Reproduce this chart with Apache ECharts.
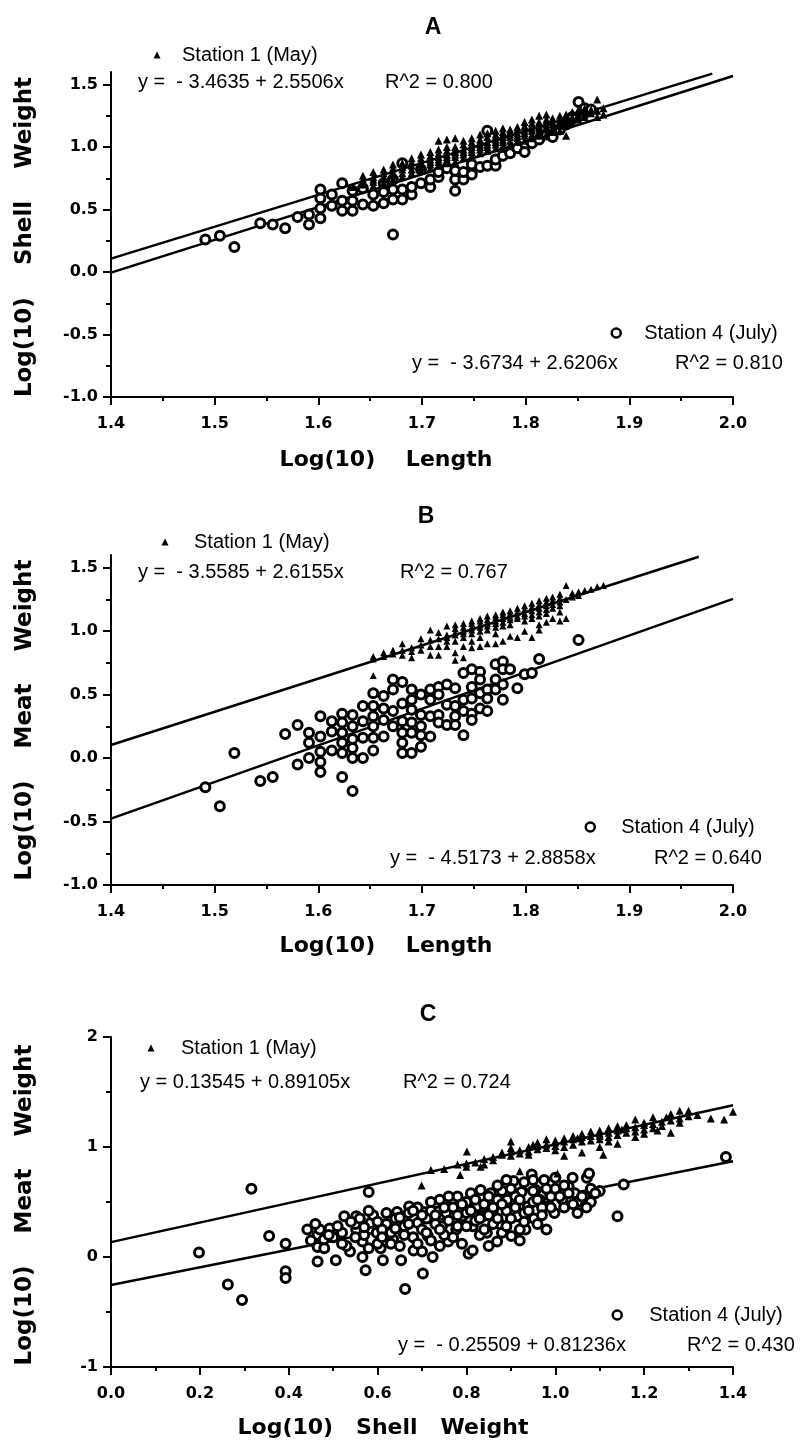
<!DOCTYPE html>
<html><head><meta charset="utf-8">
<script src="https://cdn.jsdelivr.net/npm/echarts@6/dist/echarts.min.js"></script>
<style>html,body{margin:0;padding:0;background:#fff}#c{width:808px;height:1444px}</style>
</head><body><div id="c"></div>
<script>
// ---------- tick values ----------
const xTicksLen = [1.4,1.5,1.6,1.7,1.8,1.9,2.0];
const xMinorLen = [1.45,1.55,1.65,1.75,1.85,1.95];
const yTicksAB = [-1.0,-0.5,0.0,0.5,1.0,1.5];
const yMinorAB = [-0.75,-0.25,0.25,0.75,1.25];
const xTicksShell = [0.0,0.2,0.4,0.6,0.8,1.0,1.2,1.4];
const xMinorShell = [0.1,0.3,0.5,0.7,0.9,1.1,1.3];
const yTicksC = [-1,0,1,2];
const yMinorC = [-0.5,0.5,1.5];

// ---------- texts ----------
const panelTitles = ['A','B','C'];
const yTitles = ['Log(10)    Shell    Weight','Log(10)    Meat    Weight','Log(10)    Meat    Weight'];
const xTitles = ['Log(10)    Length','Log(10)    Length','Log(10)   Shell   Weight'];
const seriesNames = ['Station 1 (May)','Station 4 (July)'];
const eqMay = ['y =  - 3.4635 + 2.5506x','y =  - 3.5585 + 2.6155x','y = 0.13545 + 0.89105x'];
const r2May = ['R^2 = 0.800','R^2 = 0.767','R^2 = 0.724'];
const eqJuly = ['y =  - 3.6734 + 2.6206x','y =  - 4.5173 + 2.8858x','y =  - 0.25509 + 0.81236x'];
const r2July = ['R^2 = 0.810','R^2 = 0.640','R^2 = 0.430'];

// ---------- regression line end points ----------
const aLineMay = [[1.4,0.107],[1.98,1.587]];
const aLineJuly = [[1.4,-0.005],[2.0,1.568]];
const bLineMay = [[1.4,0.103],[1.967,1.586]];
const bLineJuly = [[1.4,-0.477],[2.0,1.254]];
const cLineMay = [[0.0,0.135],[1.4,1.38]];
const cLineJuly = [[0.0,-0.255],[1.4,0.87]];

// ---------- Panel A: log length vs log shell weight ----------
const aMay = [
[1.633,0.68],[1.643,0.70],[1.643,0.74],[1.643,0.77],
[1.653,0.69],[1.653,0.72],[1.653,0.74],[1.653,0.76],[1.653,0.80],
[1.663,0.71],[1.663,0.74],[1.663,0.76],[1.663,0.79],[1.663,0.82],
[1.672,0.74],[1.672,0.77],[1.672,0.80],[1.672,0.83],[1.672,0.86],
[1.681,0.76],[1.681,0.79],[1.681,0.82],[1.681,0.84],[1.681,0.87],
[1.690,0.79],[1.690,0.82],[1.690,0.85],[1.690,0.88],[1.690,0.91],
[1.699,0.81],[1.699,0.84],[1.699,0.86],[1.699,0.88],[1.699,0.91],[1.699,0.94],
[1.708,0.83],[1.708,0.86],[1.708,0.88],[1.708,0.90],[1.708,0.93],[1.708,0.96],
[1.716,0.85],[1.716,0.88],[1.716,0.90],[1.716,0.92],[1.716,0.95],[1.716,0.98],[1.716,1.05],
[1.724,0.87],[1.724,0.90],[1.724,0.92],[1.724,0.94],[1.724,0.97],[1.724,1.00],[1.724,1.06],
[1.732,0.88],[1.732,0.92],[1.732,0.94],[1.732,0.96],[1.732,0.98],[1.732,1.00],[1.732,1.07],
[1.740,0.91],[1.740,0.94],[1.740,0.96],[1.740,0.98],[1.740,1.02],[1.740,1.05],
[1.748,0.93],[1.748,0.96],[1.748,0.98],[1.748,1.00],[1.748,1.02],[1.748,1.04],[1.748,1.07],
[1.756,0.95],[1.756,0.98],[1.756,1.00],[1.756,1.02],[1.756,1.04],[1.756,1.06],[1.756,1.10],
[1.763,0.97],[1.763,1.00],[1.763,1.02],[1.763,1.04],[1.763,1.08],[1.763,1.11],
[1.771,0.99],[1.771,1.02],[1.771,1.04],[1.771,1.06],[1.771,1.08],[1.771,1.10],[1.771,1.13],
[1.778,1.01],[1.778,1.04],[1.778,1.06],[1.778,1.08],[1.778,1.10],[1.778,1.12],[1.778,1.15],
[1.785,1.02],[1.785,1.05],[1.785,1.08],[1.785,1.10],[1.785,1.12],[1.785,1.14],
[1.792,1.04],[1.792,1.07],[1.792,1.09],[1.792,1.11],[1.792,1.14],[1.792,1.16],
[1.799,1.05],[1.799,1.09],[1.799,1.11],[1.799,1.13],[1.799,1.15],[1.799,1.17],[1.799,1.20],
[1.806,1.07],[1.806,1.10],[1.806,1.13],[1.806,1.15],[1.806,1.17],[1.806,1.19],[1.806,1.22],
[1.813,1.09],[1.813,1.12],[1.813,1.14],[1.813,1.16],[1.813,1.18],[1.813,1.20],[1.813,1.25],
[1.820,1.10],[1.820,1.14],[1.820,1.16],[1.820,1.18],[1.820,1.20],[1.820,1.22],[1.820,1.26],
[1.826,1.12],[1.826,1.15],[1.826,1.18],[1.826,1.20],[1.826,1.23],
[1.833,1.13],[1.833,1.17],[1.833,1.19],[1.833,1.21],[1.833,1.25],
[1.839,1.09],[1.839,1.18],[1.839,1.20],[1.839,1.22],[1.839,1.26],
[1.845,1.20],[1.845,1.22],[1.845,1.24],[1.845,1.28],
[1.851,1.22],[1.851,1.24],[1.851,1.26],[1.851,1.30],
[1.857,1.24],[1.857,1.26],[1.857,1.28],[1.857,1.31],
[1.863,1.27],[1.863,1.30],
[1.869,1.24],[1.869,1.29],[1.869,1.38],
[1.875,1.26],[1.875,1.31]
];
const aJuly = [
[1.491,0.26],[1.505,0.29],[1.519,0.20],[1.544,0.39],[1.556,0.38],[1.568,0.35],[1.580,0.44],
[1.591,0.38],[1.591,0.46],[1.602,0.43],[1.602,0.51],[1.602,0.59],[1.602,0.66],
[1.613,0.53],[1.613,0.62],[1.623,0.49],[1.623,0.57],[1.623,0.71],
[1.633,0.49],[1.633,0.57],[1.633,0.65],[1.643,0.54],[1.643,0.67],
[1.653,0.53],[1.653,0.62],[1.663,0.55],[1.663,0.64],[1.663,0.71],
[1.672,0.30],[1.672,0.58],[1.672,0.66],[1.672,0.74],
[1.681,0.58],[1.681,0.66],[1.681,0.87],[1.690,0.62],[1.690,0.68],
[1.699,0.71],[1.699,0.82],[1.708,0.68],[1.708,0.74],
[1.716,0.76],[1.716,0.80],[1.724,0.83],
[1.732,0.65],[1.732,0.74],[1.732,0.81],[1.740,0.74],[1.740,0.80],
[1.748,0.78],[1.748,0.86],[1.756,0.84],[1.763,0.85],[1.763,1.13],
[1.771,0.85],[1.771,0.90],[1.778,0.93],[1.785,0.95],[1.792,0.99],
[1.799,0.96],[1.806,1.03],[1.813,1.06],[1.820,1.10],[1.826,1.08],
[1.833,1.14],[1.839,1.18],[1.845,1.24],[1.851,1.36],[1.857,1.31],[1.863,1.30]
];

// ---------- Panel B: log length vs log meat weight ----------
const bMay = [
[1.653,0.65],[1.653,0.78],[1.653,0.80],
[1.663,0.80],[1.663,0.83],
[1.672,0.82],[1.672,0.85],
[1.681,0.81],[1.681,0.85],[1.681,0.90],
[1.690,0.79],[1.690,0.84],[1.690,0.87],
[1.699,0.85],[1.699,0.89],[1.699,0.94],
[1.708,0.81],[1.708,0.88],[1.708,0.93],[1.708,1.01],
[1.716,0.81],[1.716,0.88],[1.716,0.94],[1.716,0.99],
[1.724,0.88],[1.724,0.92],[1.724,0.95],[1.724,0.97],[1.724,1.04],
[1.732,0.77],[1.732,0.83],[1.732,0.92],[1.732,0.97],[1.732,0.99],[1.732,1.02],[1.732,1.05],
[1.740,0.79],[1.740,0.88],[1.740,0.95],[1.740,0.98],[1.740,1.00],[1.740,1.03],[1.740,1.06],
[1.748,0.87],[1.748,0.92],[1.748,0.98],[1.748,1.01],[1.748,1.03],[1.748,1.06],[1.748,1.08],
[1.756,0.88],[1.756,0.95],[1.756,1.00],[1.756,1.03],[1.756,1.05],[1.756,1.08],[1.756,1.10],
[1.763,0.90],[1.763,1.01],[1.763,1.04],[1.763,1.06],[1.763,1.09],[1.763,1.12],
[1.771,0.90],[1.771,0.98],[1.771,1.03],[1.771,1.06],[1.771,1.08],[1.771,1.11],[1.771,1.13],
[1.778,0.92],[1.778,1.04],[1.778,1.07],[1.778,1.10],[1.778,1.13],[1.778,1.15],
[1.785,0.96],[1.785,1.05],[1.785,1.09],[1.785,1.11],[1.785,1.14],[1.785,1.16],
[1.792,0.95],[1.792,1.10],[1.792,1.12],[1.792,1.15],[1.792,1.18],
[1.799,1.00],[1.799,1.08],[1.799,1.12],[1.799,1.14],[1.799,1.17],[1.799,1.20],
[1.806,0.95],[1.806,1.10],[1.806,1.13],[1.806,1.16],[1.806,1.19],[1.806,1.22],
[1.813,1.01],[1.813,1.05],[1.813,1.12],[1.813,1.15],[1.813,1.18],[1.813,1.21],[1.813,1.24],
[1.820,1.07],[1.820,1.14],[1.820,1.17],[1.820,1.20],[1.820,1.23],[1.820,1.26],
[1.826,1.10],[1.826,1.18],[1.826,1.21],[1.826,1.24],[1.826,1.27],
[1.833,1.08],[1.833,1.15],[1.833,1.20],[1.833,1.23],[1.833,1.26],[1.833,1.29],
[1.839,1.10],[1.839,1.25],[1.839,1.36],
[1.845,1.27],[1.845,1.30],
[1.851,1.28],[1.851,1.31],
[1.857,1.32],[1.863,1.33],[1.869,1.35],[1.875,1.36]
];
const bJuly = [
[1.491,-0.23],[1.505,-0.38],[1.519,0.04],[1.544,-0.18],[1.556,-0.15],[1.568,0.19],[1.580,0.26],[1.580,-0.05],
[1.591,0.20],[1.591,0.12],[1.591,0.00],
[1.602,0.33],[1.602,0.17],[1.602,0.05],[1.602,-0.03],[1.602,-0.11],
[1.613,0.29],[1.613,0.21],[1.613,0.06],
[1.623,0.35],[1.623,0.28],[1.623,0.20],[1.623,0.12],[1.623,0.04],[1.623,-0.15],
[1.633,0.34],[1.633,0.25],[1.633,0.15],[1.633,0.08],[1.633,0.00],[1.633,-0.26],
[1.643,0.41],[1.643,0.29],[1.643,0.16],[1.643,0.00],
[1.653,0.51],[1.653,0.41],[1.653,0.33],[1.653,0.25],[1.653,0.16],[1.653,0.06],
[1.663,0.49],[1.663,0.39],[1.663,0.30],[1.663,0.17],
[1.672,0.62],[1.672,0.54],[1.672,0.37],[1.672,0.25],
[1.681,0.60],[1.681,0.43],[1.681,0.29],[1.681,0.20],[1.681,0.12],[1.681,0.04],
[1.690,0.54],[1.690,0.46],[1.690,0.38],[1.690,0.28],[1.690,0.20],[1.690,0.04],
[1.699,0.50],[1.699,0.34],[1.699,0.25],[1.699,0.18],[1.699,0.09],
[1.708,0.54],[1.708,0.46],[1.708,0.33],[1.708,0.17],
[1.716,0.56],[1.716,0.50],[1.716,0.34],[1.716,0.28],
[1.724,0.58],[1.724,0.42],[1.724,0.26],
[1.732,0.55],[1.732,0.41],[1.732,0.33],[1.732,0.26],
[1.740,0.67],[1.740,0.46],[1.740,0.37],[1.740,0.18],
[1.748,0.70],[1.748,0.56],[1.748,0.47],[1.748,0.35],[1.748,0.30],
[1.756,0.68],[1.756,0.62],[1.756,0.51],[1.756,0.39],
[1.763,0.54],[1.763,0.47],[1.763,0.37],
[1.771,0.74],[1.771,0.62],[1.771,0.54],
[1.778,0.76],[1.778,0.70],[1.778,0.58],[1.778,0.46],
[1.785,0.70],[1.792,0.55],[1.799,0.66],[1.806,0.67],[1.813,0.78],[1.851,0.93]
];

// ---------- Panel C: log shell weight vs log meat weight ----------
const cMay = [
[0.699,0.65],[0.72,0.79],[0.75,0.80],[0.786,0.745],[0.78,0.84],[0.80,0.82],[0.80,0.85],[0.801,0.96],
[0.82,0.86],[0.832,0.82],[0.84,0.84],[0.84,0.89],[0.86,0.88],[0.86,0.91],[0.88,0.93],[0.88,0.95],
[0.90,0.92],[0.90,0.96],[0.90,0.99],[0.90,1.05],[0.92,0.94],[0.92,0.97],[0.92,0.78],[0.94,0.93],[0.94,0.96],[0.94,1.00],
[0.95,1.02],[0.96,0.98],[0.96,1.01],[0.96,1.04],[0.98,0.99],[0.98,1.02],[0.98,1.07],[1.00,0.97],[1.00,1.01],[1.00,1.04],[1.00,1.06],
[1.005,0.76],[1.02,0.92],[1.02,1.00],[1.02,1.05],[1.02,1.08],[1.04,1.02],[1.04,1.07],[1.04,1.10],[1.05,1.08],
[1.06,0.95],[1.06,1.05],[1.06,1.09],[1.06,1.12],[1.08,1.06],[1.08,1.10],[1.08,1.14],
[1.10,1.00],[1.10,1.07],[1.10,1.10],[1.10,1.12],[1.10,1.15],[1.108,0.93],[1.12,1.05],[1.12,1.09],[1.12,1.13],[1.12,1.17],
[1.14,1.03],[1.14,1.11],[1.14,1.15],[1.14,1.19],[1.15,1.16],[1.16,1.13],[1.16,1.17],[1.16,1.20],
[1.18,1.09],[1.18,1.14],[1.18,1.18],[1.18,1.25],[1.20,1.12],[1.20,1.16],[1.20,1.20],[1.20,1.22],[1.22,1.17],[1.22,1.21],[1.22,1.27],
[1.23,1.15],[1.24,1.19],[1.24,1.23],[1.25,1.27],[1.26,1.13],[1.26,1.24],[1.26,1.30],[1.28,1.22],[1.28,1.26],[1.28,1.33],
[1.30,1.28],[1.30,1.33],[1.32,1.29],[1.35,1.26],[1.38,1.25],[1.40,1.32]
];
const cJuly = [
[0.198,0.04],[0.263,-0.25],[0.295,-0.39],[0.316,0.62],[0.356,0.19],[0.393,0.12],[0.393,-0.13],[0.393,-0.19],
[0.442,0.25],[0.465,0.20],[0.465,0.09],[0.465,-0.04],[0.479,0.16],[0.492,0.26],[0.506,-0.03],[0.52,0.22],
[0.525,0.37],[0.538,0.05],[0.552,0.37],[0.552,0.25],[0.566,0.14],[0.566,0.00],[0.573,-0.12],[0.58,0.59],
[0.584,0.31],[0.598,0.22],[0.607,0.08],[0.612,-0.03],[0.626,0.37],[0.635,0.16],[0.644,0.41],[0.653,-0.03],
[0.658,0.22],[0.662,-0.29],[0.671,0.46],[0.681,0.06],[0.690,0.31],[0.702,-0.15],[0.704,0.41],[0.713,0.19],
[0.724,0.00],[0.731,0.49],[0.745,0.28],[0.754,0.40],[0.759,0.14],[0.768,0.52],[0.777,0.25],[0.791,0.37],
[0.796,0.49],[0.805,0.03],[0.814,0.06],[0.814,0.28],[0.823,0.46],[0.832,0.61],[0.837,0.37],[0.846,0.22],
[0.855,0.58],[0.86,0.43],[0.869,0.14],[0.878,0.29],[0.883,0.64],[0.892,0.52],[0.901,0.19],[0.906,0.69],
[0.915,0.37],[0.924,0.59],[0.933,0.25],[0.938,0.46],[0.947,0.75],[0.952,0.35],[0.956,0.61],[0.965,0.52],
[0.975,0.70],[0.984,0.46],[0.988,0.58],[0.998,0.40],[1.016,0.52],[1.03,0.64],[1.039,0.72],[1.044,0.58],
[1.058,0.46],[1.067,0.55],[1.071,0.72],[1.076,0.76],[1.14,0.37],[1.154,0.66],[1.384,0.91],
[0.62,0.30],[0.63,0.22],[0.64,0.35],[0.66,0.28],[0.67,0.40],[0.68,0.18],[0.69,0.45],[0.70,0.25],
[0.71,0.35],[0.72,0.42],[0.72,0.15],[0.73,0.30],[0.74,0.52],[0.75,0.20],[0.76,0.33],[0.77,0.45],
[0.78,0.55],[0.78,0.28],[0.79,0.12],[0.80,0.40],[0.80,0.50],[0.81,0.58],[0.82,0.33],[0.83,0.20],
[0.84,0.48],[0.85,0.38],[0.86,0.30],[0.87,0.52],[0.88,0.60],[0.89,0.42],[0.90,0.35],[0.91,0.55],
[0.92,0.25],[0.93,0.40],[0.94,0.65],[0.95,0.50],[0.96,0.30],[0.97,0.45],[0.99,0.55],[1.00,0.62],
[1.02,0.45],[1.05,0.50],[0.55,0.30],[0.57,0.20],[0.59,0.38],[0.60,0.12],[0.61,0.25],[0.50,0.18],
[0.53,0.10],[0.47,0.25],[0.45,0.15],[0.58,0.42],[0.65,0.10],[0.70,0.05],[0.74,0.10],[0.85,0.10],
[0.88,0.22],[0.92,0.15],[1.08,0.62],[1.10,0.60],[1.03,0.58],[0.98,0.25],[0.95,0.70],[1.00,0.72],[0.89,0.70],
[0.46,0.30],[0.48,0.08],[0.49,0.20],[0.51,0.28],[0.52,0.12],[0.54,0.32],[0.55,0.18],[0.56,0.35],
[0.57,0.27],[0.58,0.08],[0.60,0.32],[0.61,0.18],[0.62,0.40],[0.63,0.12],[0.64,0.26],[0.65,0.36],
[0.66,0.20],[0.67,0.30],[0.68,0.42],[0.69,0.12],[0.70,0.38],[0.71,0.22],[0.72,0.50],[0.73,0.38],
[0.74,0.25],[0.75,0.45],[0.76,0.55],[0.77,0.18],[0.78,0.38],[0.79,0.48],[0.80,0.28],[0.81,0.42],
[0.82,0.52],[0.83,0.35],[0.84,0.25],[0.85,0.55],[0.86,0.45],[0.87,0.35],[0.88,0.48],[0.89,0.28],
[0.90,0.62],[0.91,0.45],[0.92,0.52],[0.93,0.32],[0.94,0.42],[0.95,0.60],[0.96,0.52],[0.97,0.38],
[0.98,0.62],[0.99,0.45],[1.01,0.55],[1.02,0.65],[1.04,0.48],[1.05,0.40],[1.06,0.55],[1.08,0.50],
[1.09,0.58],[1.07,0.45],[0.87,0.65],[0.93,0.68]
];

// ---------- build chart ----------
// legend keys: marker centre x, text start x, text centre y
const panels = [
  {grid:{left:111, top:72, width:622, height:325}, x:[1.4,2.0], y:[-1,1.6], xt:xTicksLen, xm:xMinorLen, yt:yTicksAB, ym:yMinorAB, xf:v=>v.toFixed(1), yf:v=>v.toFixed(1),
   may:aMay, july:aJuly, lm:aLineMay, lj:aLineJuly,
   title:[433,28], yTitle:[25,237], xTitle:[386,460],
   legMay:[157,182,55], eqM:[138,82], r2M:[385,82],
   legJuly:[615,643,333], eqJ:[412,363], r2J:[675,363]},
  {grid:{left:111, top:555, width:622, height:330}, x:[1.4,2.0], y:[-1,1.6], xt:xTicksLen, xm:xMinorLen, yt:yTicksAB, ym:yMinorAB, xf:v=>v.toFixed(1), yf:v=>v.toFixed(1),
   may:bMay, july:bJuly, lm:bLineMay, lj:bLineJuly,
   title:[426,517], yTitle:[25,720], xTitle:[386,946],
   legMay:[165,194,542], eqM:[138,572], r2M:[400,572],
   legJuly:[589,620,827], eqJ:[390,858], r2J:[654,858]},
  {grid:{left:111, top:1037, width:622, height:330}, x:[0,1.4], y:[-1,2], xt:xTicksShell, xm:xMinorShell, yt:yTicksC, ym:yMinorC, xf:v=>v.toFixed(1), yf:v=>String(Math.round(v)),
   may:cMay, july:cJuly, lm:cLineMay, lj:cLineJuly,
   title:[428,1015], yTitle:[25,1205], xTitle:[383,1428],
   legMay:[151,181,1048], eqM:[140,1082], r2M:[403,1082],
   legJuly:[616,648,1315], eqJ:[398,1345], r2J:[687,1345]}
];

const AX = {color:'#000', width:2};
const tickFont = {color:'#000', fontFamily:'DejaVu Sans', fontWeight:'bold', fontSize:16};
const grid = [], xAxis = [], yAxis = [], series = [], legend = [], graphic = [];

function txt(x, y, text, font, align, rot){
  const el = {type:'text', x:x, y:y, silent:true,
    style:{text:text, font:font, fill:'#000', textAlign:align||'left', textVerticalAlign:'middle', align:align||'left', verticalAlign:'middle'}};
  if (rot) el.rotation = rot;
  return el;
}
function legendBox(name, key, size, icon, itemStyle){
  // icon box of width = size, text starts at left + size + 5 + padding
  const left = key[0] - size/2;
  const pad = key[1] - (left + size + 5);
  return {data:[name], left:left, top:key[2] - 10, padding:0, selectedMode:false,
    itemWidth:size, itemHeight:size, icon:icon, itemStyle:itemStyle,
    textStyle:{color:'#000', fontFamily:'Liberation Sans', fontSize:20, padding:[0,0,0,pad]}};
}

panels.forEach((p, i) => {
  grid.push(Object.assign({containLabel:false}, p.grid));
  xAxis.push({type:'value', gridIndex:i, min:p.x[0], max:p.x[1], position:'bottom',
    axisLine:{show:true, onZero:false, lineStyle:AX},
    axisTick:{show:true, length:8, customValues:p.xt, lineStyle:AX},
    axisLabel:Object.assign({customValues:p.xt, formatter:p.xf, margin:19}, tickFont),
    splitLine:{show:false}});
  xAxis.push({type:'value', gridIndex:i, min:p.x[0], max:p.x[1], position:'bottom',
    axisLine:{show:false, onZero:false}, axisTick:{show:true, length:4, customValues:p.xm, lineStyle:AX},
    axisLabel:{show:false}, splitLine:{show:false}});
  yAxis.push({type:'value', gridIndex:i, min:p.y[0], max:p.y[1], position:'left',
    axisLine:{show:true, onZero:false, lineStyle:AX},
    axisTick:{show:true, length:8, customValues:p.yt, lineStyle:AX},
    axisLabel:Object.assign({customValues:p.yt, formatter:p.yf, margin:13}, tickFont),
    splitLine:{show:false}});
  yAxis.push({type:'value', gridIndex:i, min:p.y[0], max:p.y[1], position:'left',
    axisLine:{show:false, onZero:false}, axisTick:{show:true, length:5, customValues:p.ym, lineStyle:AX},
    axisLabel:{show:false}, splitLine:{show:false}});

  const xi = i*2, yi = i*2;
  series.push({type:'line', xAxisIndex:xi, yAxisIndex:yi, data:p.lm, symbol:'none', silent:true, z:1,
    lineStyle:{color:'#000', width:2.5}});
  series.push({type:'line', xAxisIndex:xi, yAxisIndex:yi, data:p.lj, symbol:'none', silent:true, z:1,
    lineStyle:{color:'#000', width:2.5}});
  series.push({type:'scatter', name:seriesNames[1], xAxisIndex:xi, yAxisIndex:yi, data:p.july, z:2,
    symbol:'circle', symbolSize:9, itemStyle:{color:'#fff', borderColor:'#000', borderWidth:3, opacity:1}});
  series.push({type:'scatter', name:seriesNames[0], xAxisIndex:xi, yAxisIndex:yi, data:p.may, z:3,
    symbol:'triangle', symbolSize:i===1 ? 7 : 8, itemStyle:{color:'#000', opacity:1}});

  legend.push(legendBox(seriesNames[0], p.legMay, 7, 'triangle', {color:'#000', borderWidth:0}));
  legend.push(legendBox(seriesNames[1], p.legJuly, 9, 'circle', {color:'#fff', borderColor:'#000', borderWidth:2.5}));

  graphic.push(txt(p.title[0], p.title[1], panelTitles[i], 'bold 23px "Liberation Sans"', 'center'));
  graphic.push(txt(p.yTitle[0], p.yTitle[1], yTitles[i], 'bold 23px "DejaVu Sans"', 'center', Math.PI/2));
  graphic.push(txt(p.xTitle[0], p.xTitle[1], xTitles[i], 'bold 22px "DejaVu Sans"', 'center'));
  graphic.push(txt(p.eqM[0], p.eqM[1], eqMay[i], '20px "Liberation Sans"'));
  graphic.push(txt(p.r2M[0], p.r2M[1], r2May[i], '20px "Liberation Sans"'));
  graphic.push(txt(p.eqJ[0], p.eqJ[1], eqJuly[i], '20px "Liberation Sans"'));
  graphic.push(txt(p.r2J[0], p.r2J[1], r2July[i], '20px "Liberation Sans"'));
});

const chart = echarts.init(document.getElementById('c'), null, {renderer:'canvas'});
chart.setOption({
  animation:false, backgroundColor:'#fff',
  grid:grid, xAxis:xAxis, yAxis:yAxis, series:series, legend:legend, graphic:graphic
});
</script>
</body></html>
